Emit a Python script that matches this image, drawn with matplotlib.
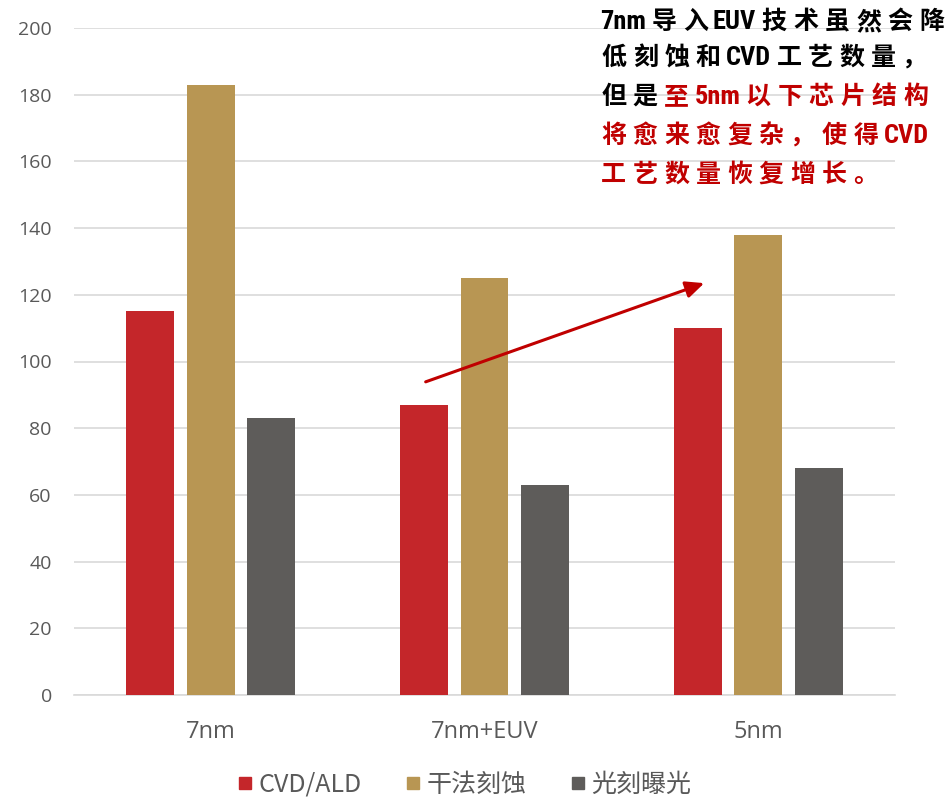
import matplotlib
matplotlib.use("Agg")
import matplotlib.pyplot as plt
from matplotlib import font_manager
from matplotlib.lines import Line2D
import numpy as np
import re

plt.rcParams['font.family'] = ['Noto Sans CJK SC', 'DejaVu Sans']

categories = ["7nm", "7nm+EUV", "5nm"]
series_names = ["CVD/ALD", "干法刻蚀", "光刻曝光"]
cvd_ald = [115, 87, 110]
dry_etch = [183, 125, 138]
litho = [83, 63, 68]
y_ticks = [0, 20, 40, 60, 80, 100, 120, 140, 160, 180, 200]

colors = ["#C4262A", "#B89653", "#5E5C5A"]
grid_color = "#D9D9D9"
tick_color = "#595959"

W, H = 952, 800
fig = plt.figure(figsize=(W / 100, H / 100), dpi=100)
ax = fig.add_axes([74 / W, 1 - 695 / H, (895 - 74) / W, (695 - 28) / H])

x = np.arange(len(categories))
step = 0.2208
width = 0.175
for i, (vals, c) in enumerate(zip([cvd_ald, dry_etch, litho], colors)):
    ax.bar(x + (i - 1) * step, vals, width=width, color=c, zorder=3)

ax.set_xlim(-0.5, 2.5)
ax.set_ylim(0, 200)
ax.set_yticks(y_ticks)
ax.set_yticklabels([str(v) for v in y_ticks], fontsize=14, color=tick_color,
                   fontfamily="Open Sans")
ax.set_xticks(x)
ax.set_xticklabels(categories, fontsize=17, color=tick_color, fontfamily="Open Sans")
ax.tick_params(axis='both', length=0)
ax.tick_params(axis='y', pad=16)
ax.tick_params(axis='x', pad=18)
ax.grid(axis='y', color=grid_color, linewidth=1.2, zorder=0)
for s in ["top", "right", "left"]:
    ax.spines[s].set_visible(False)
ax.spines["bottom"].set_color(grid_color)
ax.spines["bottom"].set_linewidth(1.2)

# trend arrow from the EUV node towards 5nm
ax.annotate("", xy=(1.803, 123.5), xytext=(0.785, 93.9),
            arrowprops=dict(arrowstyle="-|>,head_length=1.1,head_width=0.5",
                            color="#C00000", lw=2.2, shrinkA=0, shrinkB=0),
            zorder=5)

# legend
handles = [Line2D([], [], marker='s', linestyle='none', markersize=9,
                  markerfacecolor=c, markeredgecolor=c) for c in colors]
fig.legend(handles, series_names, loc='center', bbox_to_anchor=(465 / W, 1 - 785 / H),
           ncol=3, frameon=False, handlelength=0.5, handletextpad=0.3,
           columnspacing=1.8, prop={'size': 18},
           labelcolor=tick_color)

# narrow face for the Latin runs of the note
installed = {f.name for f in font_manager.fontManager.ttflist}
latin_family = next((f for f in ["Liberation Sans Narrow", "DejaVu Sans Condensed",
                                 "Roboto Condensed", "Noto Sans CJK SC"] if f in installed))

# annotation text: full-width CJK cells, Latin runs at their natural width
black = "#000000"
red = "#C00000"
lines = [
    [("7nm导入EUV技术虽然会降", black)],
    [("低刻蚀和CVD工艺数量，", black)],
    [("但是", black), ("至5nm以下芯片结构", red)],
    [("将愈来愈复杂，使得CVD", red)],
    [("工艺数量恢复增长。", red)],
]
line_y = [22, 58, 97, 136, 175]
x0 = 598
cjk_adv = 31.5
renderer = fig.canvas.get_renderer()
for segs, yp in zip(lines, line_y):
    xp = x0
    for seg, col in segs:
        for run in re.findall(r"[\x00-\x7f]+|[^\x00-\x7f]", seg):
            if ord(run[0]) > 127:
                fig.text((xp + cjk_adv / 2) / W, 1 - yp / H, run, fontsize=18,
                         fontweight='bold', color=col, va='center', ha='center')
                xp += cjk_adv
            else:
                t = fig.text((xp + 2) / W, 1 - yp / H, run, fontsize=19,
                             fontweight='bold', color=col, va='center', ha='left',
                             family=[latin_family, 'DejaVu Sans'])
                xp += t.get_window_extent(renderer=renderer).width + 4

fig.savefig("out.png", dpi=100)
